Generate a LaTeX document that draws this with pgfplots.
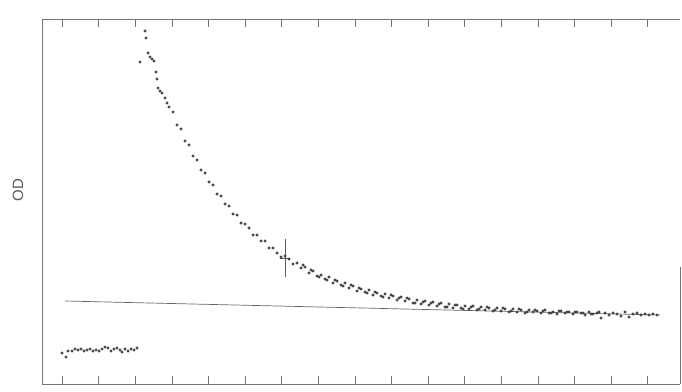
\documentclass[border=0pt]{standalone}
\usepackage{fontspec}
\setsansfont{Liberation Sans}
\usepackage{pgfplots}
\pgfplotsset{compat=1.18}
\begin{document}
\begin{tikzpicture}[x=1bp,y=1bp]
\useasboundingbox (0,0) rectangle (682,391);
\begin{axis}[
  at={(42bp,7bp)}, anchor=south west,
  scale only axis, width=638bp, height=365bp,
  xmin=42, xmax=680, ymin=0, ymax=365,
  axis x line=box, axis y line*=left,
  axis line style={black!55, line width=0.7pt, -},
  xtick={62,98.6,135.2,171.8,208.4,245,281.6,318.2,354.8,391.4,428,464.6,501.2,537.8,574.4,611,647.6},
  xticklabels=\empty,
  ytick=\empty,
  tick style={black!55, line width=0.6pt},
  major tick length=8bp,
  ylabel={OD},
  ylabel style={at={(axis description cs:-0.0376,0.531)}, anchor=center,
    font=\fontsize{15}{15}\selectfont\sffamily, text=black!65},
  clip=false,
]
% partial right border (as visible on the scan)
\addplot[black!55, line width=0.7pt, no marks] coordinates {(680,0) (680,117)};
% baseline
\addplot[black!60, line width=0.7pt, no marks] coordinates {(65,83) (660,69)};
% pre-trigger points
\addplot[only marks, mark=*, mark size=1.25pt, black!75] coordinates {
(62,31)(66,27)(68,33)(72,33)(75,35)(78,34)(81,35)(84,33)(87,34)(90,35)(93,33)(96,34)(99,33)(102,35)(105,37)(108,36)(111,33)(114,35)(117,36)(120,34)(122,32)(125,35)(128,33)(131,35)(134,34)(137,36)
};
% decay points
\addplot[only marks, mark=*, mark size=1.25pt, black!75] coordinates {
(140,322)(145,353)(146,346)(148,331)(150,327)(152,325)(154,323)(156,312)(157,305)(158,296)(160,293)(162,291)(165,286)(167,281)
(169,277)(173,272)(177,259)(181,255)(185,243)(189,239)(193,228)(197,224)(201,214)(205,211)(209,202)(213,199)(217,190)(221,188)(225,180)(229,178)(233,170)(237,169)(241,161)(245,160)(249,156)(253,149)(257,149)(261,143)(265,143)(269,136)(273,136)(277,131)(281,127)(285,128)(289,125)(293,120)(297,121)(301,116)(305,117)(309,111)(313,113)(317,108)(321,109)(325,105)(329,107)(333,101)(337,103)(341,99)(345,101)(349,96)(353,98)(357,93)(361,95)(365,92)(369,94)(373,89)(377,91)(381,88)(385,90)(389,86)(393,88)(397,84)(401,87)(405,83)(409,85)(413,81)(417,84)(421,80)(425,83)(429,79)(433,82)(437,78)(441,81)(445,77)(449,80)(453,76)(457,79)(461,76)(465,78)(469,75)(473,78)(477,74)(481,77)(485,74)(489,76)(493,73)(497,76)(501,73)(505,75)(509,72)(513,75)(517,72)(521,74)(525,71)(529,74)(533,72)(537,73)(541,71)(545,74)(549,71)
(553,72)(557,70)(561,73)(565,71)(569,72)(573,70)(577,72)(581,71)(585,69)(589,72)(593,70)(597,71)(601,66)(605,71)(609,69)(613,71)(617,70)(621,68)(625,72)(629,67)(633,70)(637,71)(641,69)(645,70)(649,69)(653,70)(657,69)
(303,119)(311,114)(319,107)(327,104)(335,104)(343,98)(351,99)(359,96)(367,91)(375,92)(383,87)(391,89)(399,86)(407,86)(415,81)(423,82)(431,81)(439,80)(447,77)(455,79)(463,75)(471,77)(479,75)(487,77)(495,74)(503,76)(511,73)(519,75)(527,72)(535,74)(543,73)(551,71)(559,73)(567,72)(575,72)(583,71)(591,70)(599,72)
};
% cross marker
\addplot[black!65, no marks, line width=0.6pt,
  error bars/.cd, x dir=both, x explicit, y dir=both, y explicit,
  error mark=none, error bar style={black!65, line width=0.6pt}]
  coordinates {(285,126) +- (5,19)};
\end{axis}
\end{tikzpicture}
\end{document}
